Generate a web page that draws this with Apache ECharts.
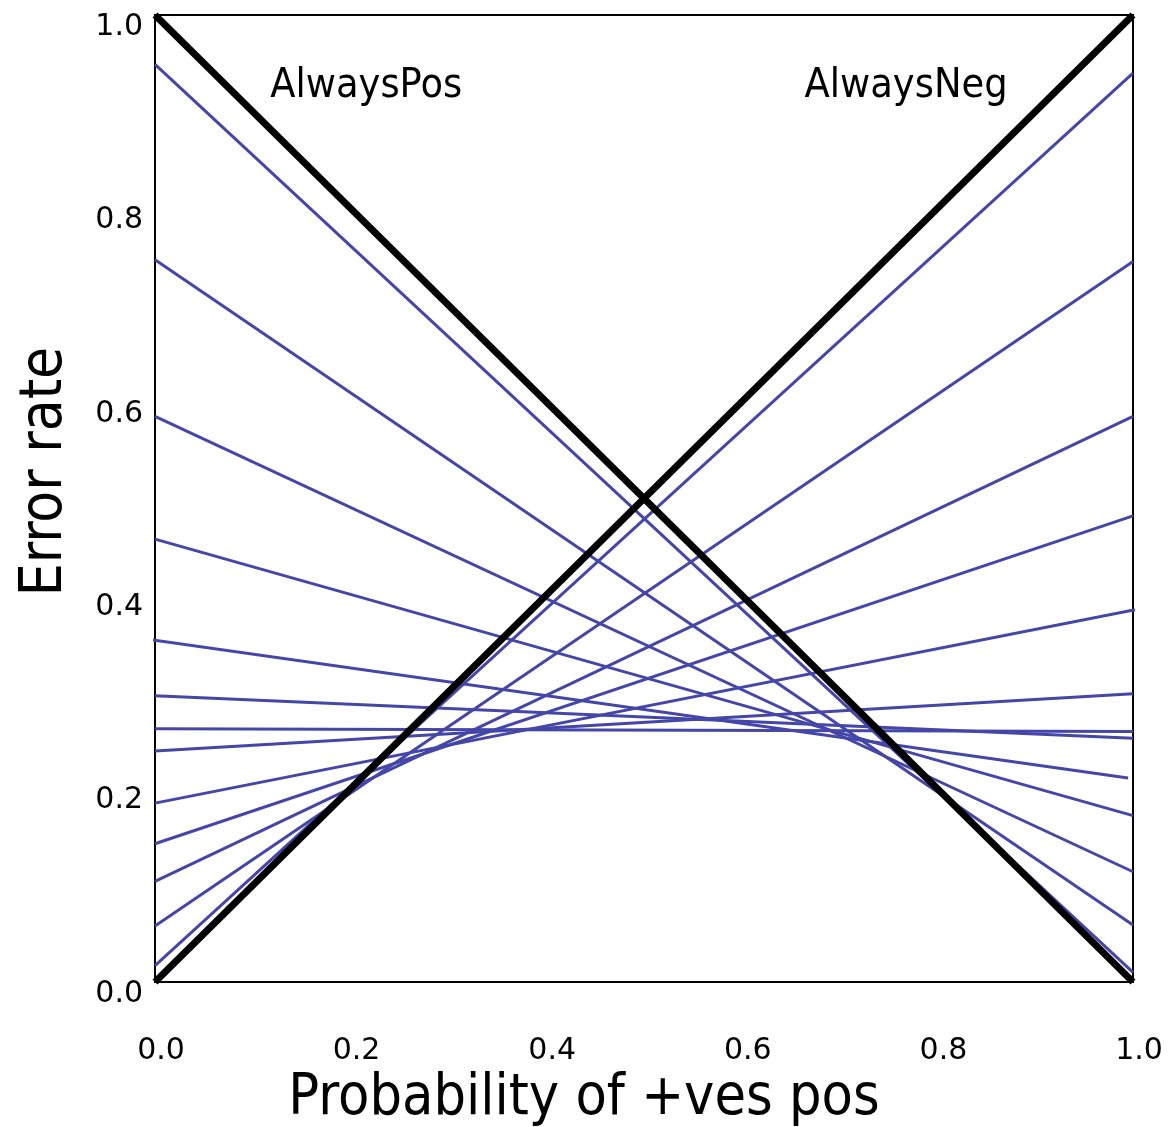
<!DOCTYPE html>
<html>
<head>
<meta charset="utf-8">
<script src="https://cdn.jsdelivr.net/npm/echarts@6/dist/echarts.min.js"></script>
<style>
html,body{margin:0;padding:0;background:#fff;}
#chart{width:1172px;height:1127px;}
</style>
</head>
<body>
<div id="chart"></div>
<script>
// Error rate at p=0 (left) and p=1 (right) for each classifier line
const leftErr  = [0.949, 0.747, 0.585, 0.458, 0.354, 0.296, 0.262, 0.239, 0.185, 0.143, 0.104, 0.058, 0.017];
const rightErr = [0.010, 0.059, 0.114, 0.172, 0.211, 0.252, 0.259, 0.298, 0.385, 0.482, 0.585, 0.745, 0.940];
const startX   = [0, 0, 0, 0, -0.005, 0, 0, 0, 0, 0, 0, 0, 0];
const endX     = [1, 1, 1, 1, 0.995, 1, 1, 1, 1.002, 1, 1, 1, 1];
const alwaysPos = [[0, 1], [1, 0]];
const alwaysNeg = [[0, 0], [1, 1]];
const labelTexts = [
  {name: 'AlwaysPos', value: [0.216, 0.926]},
  {name: 'AlwaysNeg', value: [0.768, 0.926]}
];

const FONT = "'DejaVu Sans Condensed', 'Liberation Sans Narrow', 'DejaVu Sans', sans-serif";
const TICKFONT = "'DejaVu Sans', sans-serif";
const BLUE = '#4446a8';

const series = [];
leftErr.forEach((l, i) => {
  series.push({
    type: 'line',
    data: [[startX[i], l], [endX[i], rightErr[i]]],
    symbol: 'none',
    clip: false,
    silent: true,
    lineStyle: {color: BLUE, width: 3},
    z: 2
  });
});
[alwaysPos, alwaysNeg].forEach(d => {
  series.push({
    type: 'line',
    data: d,
    symbol: 'none',
    clip: false,
    silent: true,
    lineStyle: {color: '#000', width: 7},
    z: 3
  });
});
series.push({
  type: 'scatter',
  data: labelTexts,
  symbolSize: 0,
  silent: true,
  itemStyle: {opacity: 1},
  label: {
    show: true,
    position: 'inside',
    formatter: p => p.name,
    fontFamily: FONT,
    fontSize: 41,
    color: '#000',
    opacity: 1,
    textBorderWidth: 0
  },
  z: 4
});

const chart = echarts.init(document.getElementById('chart'), null, {renderer: 'canvas'});
chart.setOption({
  animation: false,
  backgroundColor: '#fff',
  grid: {left: 155, right: 39, top: 15, bottom: 145, containLabel: false, outerBoundsMode: 'none',
         show: true, borderColor: '#000', borderWidth: 2, backgroundColor: 'transparent'},
  xAxis: {
    type: 'value', min: 0, max: 1, interval: 0.2,
    name: 'Probability of +ves pos',
    nameLocation: 'middle',
    nameGap: 88,
    nameTextStyle: {fontFamily: FONT, fontSize: 57, color: '#000', padding: [0, 120, 0, 0]},
    axisLine: {show: true, lineStyle: {color: '#000', width: 2}},
    axisTick: {show: false},
    splitLine: {show: false},
    axisLabel: {
      formatter: v => v.toFixed(1),
      fontFamily: TICKFONT, fontSize: 30, color: '#000',
      margin: 54,
      padding: [0, 0, 0, 12]
    }
  },
  yAxis: {
    type: 'value', min: 0, max: 1, interval: 0.2,
    name: 'Error rate',
    nameLocation: 'middle',
    nameGap: 80,
    nameTextStyle: {fontFamily: FONT, fontSize: 58, color: '#000', padding: [0, 0, 0, 54]},
    axisLine: {show: true, lineStyle: {color: '#000', width: 2}},
    axisTick: {show: false},
    splitLine: {show: false},
    axisLabel: {
      formatter: v => v.toFixed(1),
      fontFamily: TICKFONT, fontSize: 30, color: '#000',
      margin: 12,
      verticalAlign: 'top',
      lineHeight: 24
    }
  },
  series: series
});
</script>
</body>
</html>
